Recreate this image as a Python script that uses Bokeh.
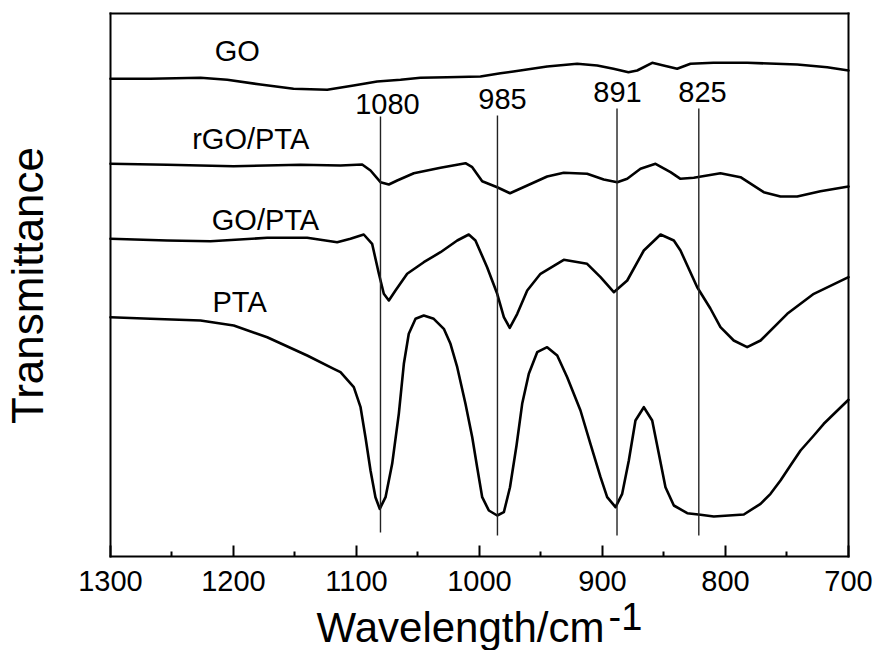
import math
from bokeh.plotting import figure
from bokeh.models import Range1d, FixedTicker, Label, LinearAxis
from bokeh.embed import file_html
from bokeh.resources import INLINE

# ---- data (wavenumber in cm^-1, transmittance in arbitrary offset units) ----
go_wn = [1300, 1267.5, 1226.8, 1205.1, 1178.0, 1151.2, 1123.8, 1102.4, 1083.2, 1064.2, 1048.0,
         1026.3, 999.2, 982.9, 972.4, 945.0, 920.6, 904.3, 891.1, 878.9, 871.8, 859.6, 850.4,
         839.3, 828.5, 809.8, 782.4, 741.7, 717.3, 700]
go_t = [477.7, 477.7, 478.7, 476.7, 472.0, 467.7, 466.7, 471.0, 475.0, 476.7, 478.7,
        479.3, 480.0, 483.3, 485.0, 490.0, 492.7, 491.0, 487.7, 484.3, 486.0, 493.7, 491.0,
        487.7, 492.7, 493.7, 493.7, 492.0, 489.3, 486.0]

rgo_wn = [1300, 1253.9, 1200, 1145.5, 1113.0, 1095.4, 1088.6, 1080.5, 1073.7, 1066.9, 1053.4,
          1031.7, 1011.4, 1005.9, 997.8, 985.6, 975.2, 961.2, 945.0, 931.5, 912.5, 899.0,
          888.0, 879.9, 869.1, 856.9, 844.7, 836.6, 825.8, 804.1, 787.8, 768.9, 755.3,
          741.7, 722.8, 700]
rgo_t = [392.7, 391.7, 390.3, 391.7, 391.0, 392.0, 386.0, 374.3, 372.0, 376.0, 383.3,
         388.7, 393.3, 389.3, 375.3, 369.3, 363.3, 371.0, 380.0, 383.7, 382.7, 377.0,
         374.3, 377.7, 387.7, 392.7, 384.3, 377.7, 378.7, 383.3, 379.3, 364.3, 360.0,
         360.0, 365.3, 370.0]

gopta_wn = [1300, 1253.9, 1218.7, 1172.6, 1140.1, 1115.7, 1104.9, 1094.1, 1087.3, 1081.8, 1077.8,
            1073.7, 1068.3, 1058.8, 1045.3, 1031.7, 1018.1, 1008.7, 1003.3, 993.8, 985.6, 980.2,
            975.4, 969.3, 961.2, 950.4, 931.5, 912.5, 901.6, 890.8, 879.9, 866.4, 852.8, 842.0,
            836.6, 823.0, 812.3, 804.1, 793.3, 782.4, 771.5, 749.8, 728.2, 700]
gopta_t = [317.7, 316.0, 315.3, 318.7, 318.7, 314.3, 317.7, 322.0, 312.7, 282.7, 262.7,
           256.0, 266.0, 282.7, 294.3, 304.3, 316.0, 322.0, 316.0, 289.3, 262.7, 239.3,
           228.7, 242.7, 266.0, 282.7, 296.7, 292.7, 279.3, 264.3, 276.0, 306.0, 322.0, 316.0,
           306.0, 269.3, 248.0, 229.3, 216.0, 209.3, 216.0, 242.7, 262.7, 279.3]

pta_wn = [1300, 1267.5, 1226.8, 1199.8, 1172.6, 1140.1, 1118.5, 1113.0, 1102.2, 1096.7, 1092.7,
          1088.6, 1084.6, 1081.1, 1076.4, 1071.0, 1065.6, 1061.5, 1057.5, 1052.0, 1045.3, 1037.2,
          1029.0, 1023.6, 1018.1, 1011.4, 1005.9, 1001.9, 997.8, 992.4, 985.6, 980.2, 975.2,
          969.9, 965.3, 959.9, 953.1, 945.0, 936.8, 928.7, 917.9, 909.8, 901.6, 896.2, 889.4,
          884.0, 878.6, 873.2, 866.4, 859.6, 854.2, 848.8, 842.0, 831.1, 820.3, 809.5, 785.1,
          771.5, 763.4, 755.3, 747.2, 739.0, 728.2, 720.1, 700]
pta_t = [239.3, 237.7, 236.0, 231.0, 219.3, 201.0, 187.7, 184.3, 169.3, 149.3, 119.3,
         86.0, 59.3, 47.7, 59.3, 92.7, 142.7, 192.7, 222.7, 237.7, 241.0, 237.7,
         227.7, 212.7, 189.3, 152.7, 119.3, 89.3, 59.3, 46.0, 41.0, 44.3, 69.3,
         111.0, 152.7, 182.7, 204.3, 209.3, 201.0, 179.3, 146.0, 112.7, 79.3, 59.3, 49.3,
         62.7, 96.0, 136.0, 149.3, 136.0, 102.7, 69.3, 51.0, 43.3, 41.7, 40.0, 42.0,
         52.7, 62.7, 76.0, 91.0, 106.0, 121.0, 132.7, 156.7]

peak_labels = ["1080", "985", "891", "825"]
peak_line_wn = [1080.5, 985.4, 888.2, 821.7]

curve_names = ["GO", "rGO/PTA", "GO/PTA", "PTA"]

x_major = [1300, 1200, 1100, 1000, 900, 800, 700]
x_minor = [1250, 1150, 1050, 950, 850, 750]

# ---- layout (positions) ----
peak_line_top = [440, 441, 448, 448]
peak_line_bottom = [24, 21, 21, 21]
peak_label_wn = [1074.8, 981.3, 887.8, 818.7]
peak_label_y = [452.5, 457.5, 464.5, 464.5]
name_wn = [1197, 1186, 1174, 1195]
name_y = [505.5, 417.5, 336.8, 254.2]

FONT = "Liberation Sans"

p = figure(width=874, height=650, output_backend="svg", toolbar_location=None,
           x_range=Range1d(1389.43, 678.86), y_range=Range1d(-94, 556), min_border=0)
p.background_fill_color = "white"
p.border_fill_color = "white"
p.outline_line_color = None
p.xgrid.visible = False
p.ygrid.visible = False


def style_plain(axis):
    axis.ticker = FixedTicker(ticks=[])
    axis.major_tick_line_color = None
    axis.minor_tick_line_color = None
    axis.major_label_text_color = None
    axis.major_label_text_font_size = "0px"
    axis.axis_line_color = "black"
    axis.axis_line_width = 2
    axis.axis_line_cap = "square"


# box drawn with the library's axes at fixed locations
ax = p.xaxis[0]
ax.fixed_location = 0
ax.bounds = (700, 1300)
ax.ticker = FixedTicker(ticks=x_major, minor_ticks=x_minor)
ax.axis_line_color = "black"
ax.axis_line_width = 2
ax.axis_line_cap = "square"
ax.major_tick_in = 11
ax.major_tick_out = 0
ax.minor_tick_in = 5
ax.minor_tick_out = 0
ax.major_tick_line_width = 2
ax.minor_tick_line_width = 2
ax.major_tick_line_color = "black"
ax.minor_tick_line_color = "black"
ax.major_label_text_font = FONT
ax.major_label_text_font_size = "29px"
ax.major_label_text_color = "black"
ax.major_label_standoff = 14

ay = p.yaxis[0]
ay.fixed_location = 1300
ay.bounds = (0, 543)
style_plain(ay)

top = LinearAxis(fixed_location=543, bounds=(700, 1300))
style_plain(top)
p.add_layout(top, "above")

right = LinearAxis(fixed_location=700, bounds=(0, 543))
style_plain(right)
p.add_layout(right, "right")

for wn, t in [(go_wn, go_t), (rgo_wn, rgo_t), (gopta_wn, gopta_t), (pta_wn, pta_t)]:
    p.line(wn, t, line_color="black", line_width=2.6, line_join="round", line_cap="round")

p.segment(x0=peak_line_wn, y0=peak_line_bottom, x1=peak_line_wn, y1=peak_line_top,
          line_color="#222222", line_width=1.4)

for lab, xw, yy in zip(peak_labels, peak_label_wn, peak_label_y):
    p.add_layout(Label(x=xw, y=yy, text=lab, text_align="center", text_baseline="alphabetic",
                       text_font=FONT, text_font_size="29px", text_color="black"))

for lab, xw, yy in zip(curve_names, name_wn, name_y):
    p.add_layout(Label(x=xw, y=yy, text=lab, text_align="center", text_baseline="alphabetic",
                       text_font=FONT, text_font_size="29px", text_color="black"))

# axis titles
p.add_layout(Label(x=1015.4, y=-71, text="Wavelength/cm", text_align="center",
                   text_baseline="alphabetic", text_font=FONT, text_font_size="42px",
                   text_color="black"))
p.add_layout(Label(x=895.1, y=-60, text="-1", text_align="left",
                   text_baseline="alphabetic", text_font=FONT, text_font_size="38px",
                   text_color="black"))
p.add_layout(Label(x=1367.5, y=271, text="Transmittance", text_align="center",
                   text_baseline="middle", angle=math.pi / 2, text_font=FONT,
                   text_font_size="44px", text_color="black"))

open("out.html", "w").write(file_html(p, INLINE))
